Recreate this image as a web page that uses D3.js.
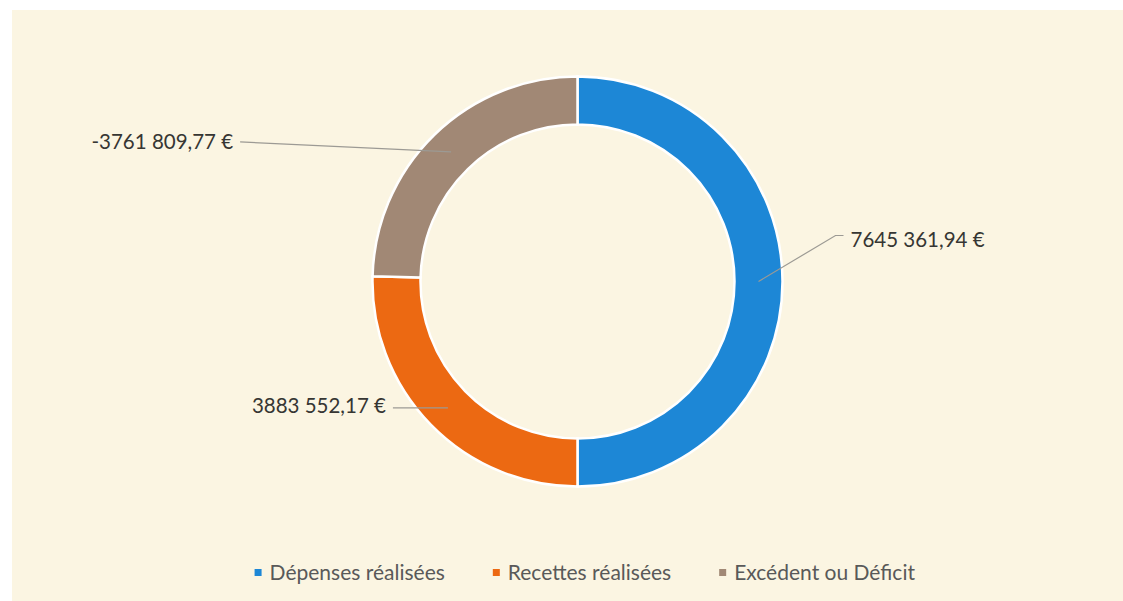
<!DOCTYPE html>
<html>
<head>
<meta charset="utf-8">
<script src="https://d3js.org/d3.v7.min.js"></script>
<style>
    html, body { margin: 0; padding: 0; background: #ffffff; }
    svg { display: block; }
    text { font-family: Lato, "Open Sans", sans-serif; }
</style>
</head>
<body>
<div id="chart"></div>
<script>
    const categories = ["Dépenses réalisées", "Recettes réalisées", "Excédent ou Déficit"]
    const values = [7645361.94, 3883552.17, -3761809.77]
    const colors = ["#1d87d6", "#ec6912", "#a18875"]

    const width = 1123
    const height = 601
    const cx = 577.5
    const cy = 281.5
    const outerR = 205
    const innerR = 157

    // french style number, Excel shows "7645 361,94 €"
    const fr = d3.formatLocale({ decimal: ",", thousands: " ", grouping: [3, 4], currency: ["", " €"], minus: "-" })
    const fmt = fr.format("$,.2f")

    const svg = d3.select("#chart").append("svg")
        .attr("width", width)
        .attr("height", height)

    svg.append("rect")
        .attr("x", 12).attr("y", 10)
        .attr("width", width - 12).attr("height", height - 10)
        .attr("fill", "#fbf5e2")

    const pie = d3.pie().sort(null).value(d => Math.abs(d))
    const arc = d3.arc().innerRadius(innerR).outerRadius(outerR)
    const arcs = pie(values)

    const g = svg.append("g").attr("transform", "translate(" + cx + "," + cy + ")")

    g.selectAll("path")
        .data(arcs)
        .enter()
        .append("path")
        .attr("d", arc)
        .attr("fill", (d, i) => colors[i])
        .attr("stroke", "#ffffff")
        .attr("stroke-width", 2.5)

    // leader lines: from centroid, optional elbow, to end point; text beside end
    const leaders = [
        { elbow: [77, -46], end: [85, -46], side: 1, ty: 4 },
        { elbow: null, end: [-55, 0], side: -1, ty: -2 },
        { elbow: null, end: [-211, -10], side: -1, ty: 0 }
    ]

    arcs.forEach((d, i) => {
        const c = arc.centroid(d)
        const L = leaders[i]
        const pts = [c]
        if (L.elbow) pts.push([c[0] + L.elbow[0], c[1] + L.elbow[1]])
        const e = [c[0] + L.end[0], c[1] + L.end[1]]
        pts.push(e)
        g.append("path")
            .attr("d", d3.line()(pts))
            .attr("fill", "none")
            .attr("stroke", "#9c9a94")
            .attr("stroke-width", 1.2)
        g.append("text")
            .attr("x", e[0] + L.side * 7)
            .attr("y", e[1] + L.ty)
            .attr("dy", "0.35em")
            .attr("text-anchor", L.side > 0 ? "start" : "end")
            .attr("font-size", 20.5)
            .attr("fill", "#363633")
            .text(fmt(values[i]))
    })

    // legend
    const legend = svg.append("g").attr("id", "legend")
    const items = legend.selectAll("g")
        .data(categories)
        .enter()
        .append("g")
    items.append("rect")
        .attr("width", 7).attr("height", 7)
        .attr("y", -4)
        .attr("fill", (d, i) => colors[i])
    items.append("text")
        .attr("x", 15)
        .attr("dy", "0.35em")
        .attr("font-size", 21)
        .attr("fill", "#595959")
        .text(d => d)

    let widths = []
    items.each(function () { widths.push(this.getBBox().width) })
    const gap = 48
    const total = d3.sum(widths) + gap * (widths.length - 1)
    let x0 = 585 - total / 2
    items.attr("transform", (d, i) => {
        const t = "translate(" + x0 + ",573)"
        x0 += widths[i] + gap
        return t
    })
</script>
</body>
</html>
